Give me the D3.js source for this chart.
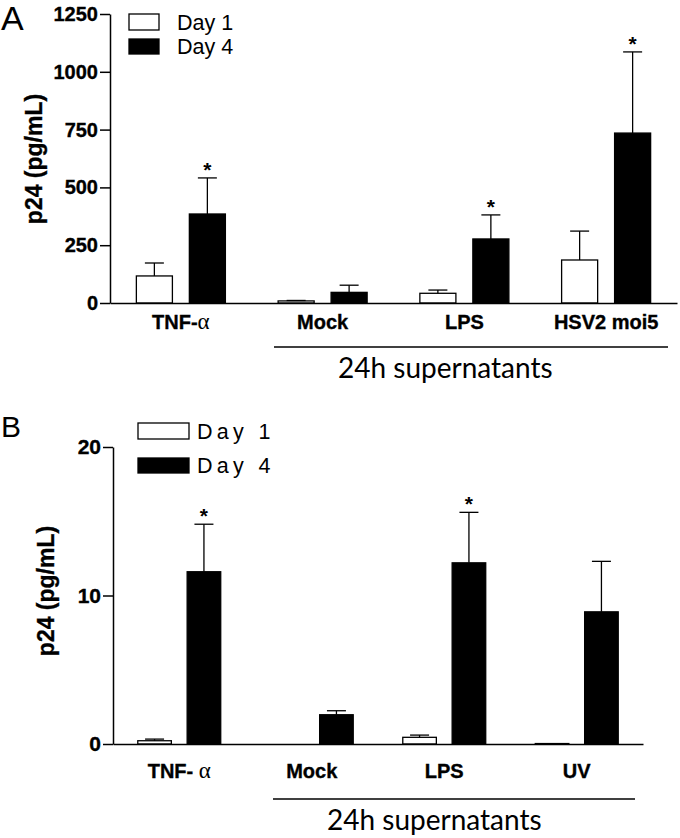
<!DOCTYPE html>
<html>
<head>
<meta charset="utf-8">
<script src="https://cdn.jsdelivr.net/npm/d3@7"></script>
<style>
  html, body { margin: 0; padding: 0; background: #fff; }
  svg { display: block; }
</style>
</head>
<body>
<svg id="chart" width="680" height="838"></svg>
<script>
// ---------- data ----------
const series = ["Day 1", "Day 4"];

const categoriesA = ["TNF-α", "Mock", "LPS", "HSV2 moi5"];
const day1A = [117, 9, 42, 186];
const day1SemA = [56, 2, 14, 125];
const day4A = [385, 46, 277, 735];
const day4SemA = [156, 31, 104, 351];
const sigDay4A = [true, false, true, true];
const ticksA = [0, 250, 500, 750, 1000, 1250];

const categoriesB = ["TNF- α", "Mock", "LPS", "UV"];
const day1B = [0.22, 0, 0.45, 0.03];
const day1SemB = [0.11, 0, 0.15, 0];
const day4B = [11.6, 1.97, 12.2, 8.9];
const day4SemB = [3.2, 0.27, 3.4, 3.4];
const sigDay4B = [true, false, true, false];
const ticksB = [0, 10, 20];

const yTitle = "p24 (pg/mL)";
const groupLabel = "24h supernatants";

// ---------- drawing ----------
const svg = d3.select("#chart");
const BOLD = "'Liberation Sans', Arial, sans-serif";

function boldText(sel, size) {
  return sel.attr("font-family", BOLD).attr("font-weight", "bold")
    .attr("font-size", size).attr("fill", "#000")
    .attr("stroke", "#000").attr("stroke-width", 0.35);
}

function drawPanel(o) {
  const g = svg.append("g");
  const y = d3.scaleLinear().domain([0, o.ymax]).range([o.y0, o.y1]);
  const x0 = d3.scaleBand().domain(o.cats).range([o.xl, o.xr])
    .paddingInner(o.pad).paddingOuter(o.pad / 2);
  const x1 = d3.scaleBand().domain(series).range([0, x0.bandwidth()]).paddingInner(0.32);

  const rows = o.cats.map((c, i) => ({
    cat: c,
    bars: [
      { s: "Day 1", v: o.d1[i], e: o.e1[i], sig: false },
      { s: "Day 4", v: o.d4[i], e: o.e4[i], sig: o.sig[i] }
    ]
  }));

  // y axis
  const ya = g.append("g").attr("transform", `translate(${o.xl},0)`)
    .call(d3.axisLeft(y).tickValues(o.ticks).tickFormat(d3.format("d"))
      .tickSize(10).tickSizeOuter(0).tickPadding(2));
  ya.selectAll("path, line").attr("stroke", "#000").attr("stroke-width", 1.5);
  boldText(ya.selectAll("text"), o.tickFont);

  // bars
  const grp = g.selectAll("g.grp").data(rows).join("g")
    .attr("transform", d => `translate(${x0(d.cat)},0)`);
  grp.selectAll("rect").data(d => d.bars.filter(b => b.v > 0)).join("rect")
    .attr("x", b => x1(b.s))
    .attr("y", b => y(b.v))
    .attr("width", x1.bandwidth())
    .attr("height", b => y(0) - y(b.v))
    .attr("fill", b => b.s === "Day 1" ? "#fff" : "#000")
    .attr("stroke", "#000").attr("stroke-width", 1.3);

  // error bars (upper only)
  const eb = grp.selectAll("g.err").data(d => d.bars.filter(b => b.e > 0)).join("g");
  eb.append("line")
    .attr("x1", b => x1(b.s) + x1.bandwidth() / 2)
    .attr("x2", b => x1(b.s) + x1.bandwidth() / 2)
    .attr("y1", b => y(b.v)).attr("y2", b => y(b.v + b.e))
    .attr("stroke", "#000").attr("stroke-width", 1.3);
  eb.append("line")
    .attr("x1", b => x1(b.s) + x1.bandwidth() / 2 - 9.5)
    .attr("x2", b => x1(b.s) + x1.bandwidth() / 2 + 9.5)
    .attr("y1", b => y(b.v + b.e)).attr("y2", b => y(b.v + b.e))
    .attr("stroke", "#000").attr("stroke-width", 1.3);

  // significance stars
  grp.selectAll("text.star").data(d => d.bars.filter(b => b.sig)).join("text")
    .attr("x", b => x1(b.s) + x1.bandwidth() / 2)
    .attr("y", b => y(b.v + b.e) - 1)
    .attr("text-anchor", "middle")
    .attr("font-family", BOLD).attr("font-weight", "bold").attr("font-size", 21)
    .text("*");

  // x axis
  const xa = g.append("g").attr("transform", `translate(0,${o.y0})`)
    .call(d3.axisBottom(x0).tickSize(0).tickSizeOuter(0).tickPadding(o.labPad));
  xa.select("path").attr("stroke", "#000").attr("stroke-width", 1.5);
  boldText(xa.selectAll("text"), 20);
  xa.selectAll("text").each(function (d) {
      const t = d3.select(this);
      t.text(null);
      const k = d.indexOf("α");
      if (k < 0) { t.append("tspan").text(d); return; }
      t.append("tspan").text(d.slice(0, k));
      t.append("tspan").attr("font-family", "'Liberation Serif', serif")
        .attr("font-weight", "normal").attr("stroke-width", 0)
        .attr("font-size", 23).text("α");
    });

  // y title
  boldText(g.append("text")
    .attr("transform", `translate(${o.titleX},${o.titleY}) rotate(-90)`)
    .attr("text-anchor", "middle"), 23)
    .text(yTitle);

  // panel letter
  g.append("text").attr("x", 1).attr("y", o.letterY)
    .attr("font-family", "'Liberation Sans', Arial, sans-serif")
    .attr("font-size", o.letterSize).text(o.letter);

  // legend
  o.legend.forEach((L, i) => {
    g.append("rect").attr("x", L.x).attr("y", L.y).attr("width", L.w).attr("height", L.h)
      .attr("fill", i === 0 ? "#fff" : "#000").attr("stroke", "#000").attr("stroke-width", 1.3);
    g.append("text").attr("x", L.tx).attr("y", L.ty)
      .attr("font-family", "'Liberation Sans', Arial, sans-serif")
      .attr("font-size", 21.5).attr("letter-spacing", o.legSpacing)
      .text(series[i]);
  });

  // group bracket line + label
  g.append("line").attr("x1", o.brX1).attr("x2", o.brX2)
    .attr("y1", o.brY).attr("y2", o.brY)
    .attr("stroke", "#000").attr("stroke-width", 1.5);
  g.append("text").attr("x", o.glX).attr("y", o.glY)
    .attr("font-family", "Lato, 'Open Sans', sans-serif").attr("font-size", 28)
    .text(groupLabel);
}

drawPanel({
  cats: categoriesA, d1: day1A, e1: day1SemA, d4: day4A, e4: day4SemA, sig: sigDay4A,
  ticks: ticksA, ymax: 1250, y0: 303, y1: 14, xl: 110, xr: 677, pad: 0.372,
  tickFont: 20, labPad: 12, titleX: 42, titleY: 159,
  letter: "A", letterY: 30, letterSize: 34,
  legend: [
    { x: 129, y: 14, w: 30, h: 16, tx: 177, ty: 30 },
    { x: 129, y: 39, w: 30, h: 15, tx: 177, ty: 54 }
  ],
  legSpacing: 0,
  brX1: 274, brX2: 668, brY: 347, glX: 338, glY: 378
});

drawPanel({
  cats: categoriesB, d1: day1B, e1: day1SemB, d4: day4B, e4: day4SemB, sig: sigDay4B,
  ticks: ticksB, ymax: 20, y0: 744, y1: 447, xl: 113, xr: 643, pad: 0.374,
  tickFont: 21, labPad: 20, titleX: 54, titleY: 591,
  letter: "B", letterY: 437, letterSize: 30,
  legend: [
    { x: 138, y: 423, w: 51, h: 16, tx: 197, ty: 439 },
    { x: 138, y: 458, w: 51, h: 15, tx: 197, ty: 473 }
  ],
  legSpacing: 4.3,
  brX1: 273, brX2: 635, brY: 799, glX: 327, glY: 830
});
</script>
</body>
</html>
